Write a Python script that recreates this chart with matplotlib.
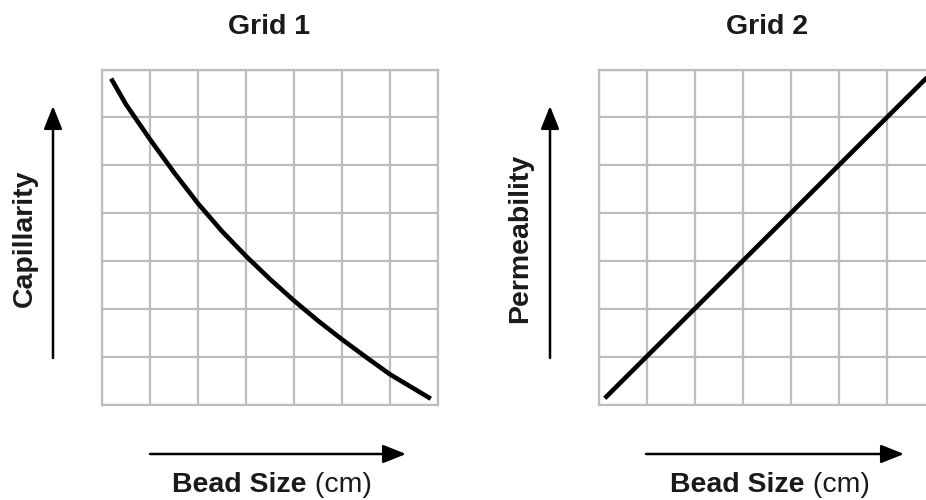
import matplotlib
matplotlib.use("Agg")
import matplotlib.pyplot as plt

cap_x = [0.19, 0.5, 1.0, 1.5, 2.0, 2.5, 3.0, 3.5, 4.0, 4.5, 5.0, 5.5, 6.0, 6.5, 6.85]
cap_y = [6.81, 6.27, 5.54, 4.85, 4.20, 3.62, 3.10, 2.62, 2.17, 1.75, 1.36, 0.99, 0.63, 0.33, 0.12]

# straight line on Grid 2
perm_x = [0.12, 7.0]
perm_y = [0.13, 7.0]

titles = ["Grid 1", "Grid 2"]
y_labels = ["Capillarity", "Permeability"]
x_label_bold = "Bead Size"
x_label_unit = " (cm)"

W, H = 926, 500
plt.rcParams['font.family'] = ['Liberation Sans', 'DejaVu Sans']
TXT = '#1a1a1a'
GRID = '#bdbdbd'

fig = plt.figure(figsize=(W / 100, H / 100), dpi=100)


def px(x, y, w, h):
    # pixel box (top-left origin) -> figure fraction
    return [x / W, 1 - (y + h) / H, w / W, h / H]


def make_grid(left):
    ax = fig.add_axes(px(left, 69.5, 336, 335))
    ax.set_xlim(0, 7)
    ax.set_ylim(0, 7)
    ax.set_xticks(range(8))
    ax.set_yticks(range(8))
    ax.tick_params(length=0, labelbottom=False, labelleft=False)
    ax.grid(True, color=GRID, lw=1.6)
    for s in ax.spines.values():
        s.set_color(GRID)
        s.set_linewidth(1.6)
    ax.set_axisbelow(True)
    return ax


ax1 = make_grid(102)
ax1.plot(cap_x, cap_y, color='black', lw=3.3, solid_capstyle='butt',
         solid_joinstyle='round')

ax2 = make_grid(599)
ax2.plot(perm_x, perm_y, color='black', lw=3.3, solid_capstyle='butt')

arrow = dict(arrowstyle='-|>,head_length=0.7,head_width=0.28', lw=1.8,
             color='black', mutation_scale=20, shrinkA=0, shrinkB=0)

renderer = fig.canvas.get_renderer()
panels = [(269, 25, 53, 150, 404), (767, 520, 550, 646, 902)]
for i, (cx, ylab_x, yarr_x, xa0, xa1) in enumerate(panels):
    fig.text(cx / W, 1 - 27 / H, titles[i], ha='center', va='center',
             fontsize=20.5, fontweight='bold', color=TXT)
    # y-axis arrow and label
    fig.text(ylab_x / W, 1 - 238 / H, y_labels[i], rotation=90, ha='center',
             va='center', fontsize=20.5, fontweight='bold', color=TXT)
    fig.add_artist(matplotlib.patches.FancyArrowPatch(
        (yarr_x / W, 1 - 358 / H), (yarr_x / W, 1 - 106 / H),
        transform=fig.transFigure, **arrow))
    # x-axis arrow and label
    fig.add_artist(matplotlib.patches.FancyArrowPatch(
        (xa0 / W, 1 - 454 / H), ((xa1 + 2) / W, 1 - 454 / H),
        transform=fig.transFigure, **arrow))
    t1 = fig.text(0, 1 - 485 / H, x_label_bold, ha='left', va='center',
                  fontsize=20.5, fontweight='bold', color=TXT)
    t2 = fig.text(0, 1 - 485 / H, x_label_unit, ha='left', va='center',
                  fontsize=20.5, color=TXT)
    w1 = t1.get_window_extent(renderer).width
    w2 = t2.get_window_extent(renderer).width
    start = cx + 3 - (w1 + w2) / 2
    t1.set_x(start / W)
    t2.set_x((start + w1) / W)

fig.savefig("out.png", dpi=100)
